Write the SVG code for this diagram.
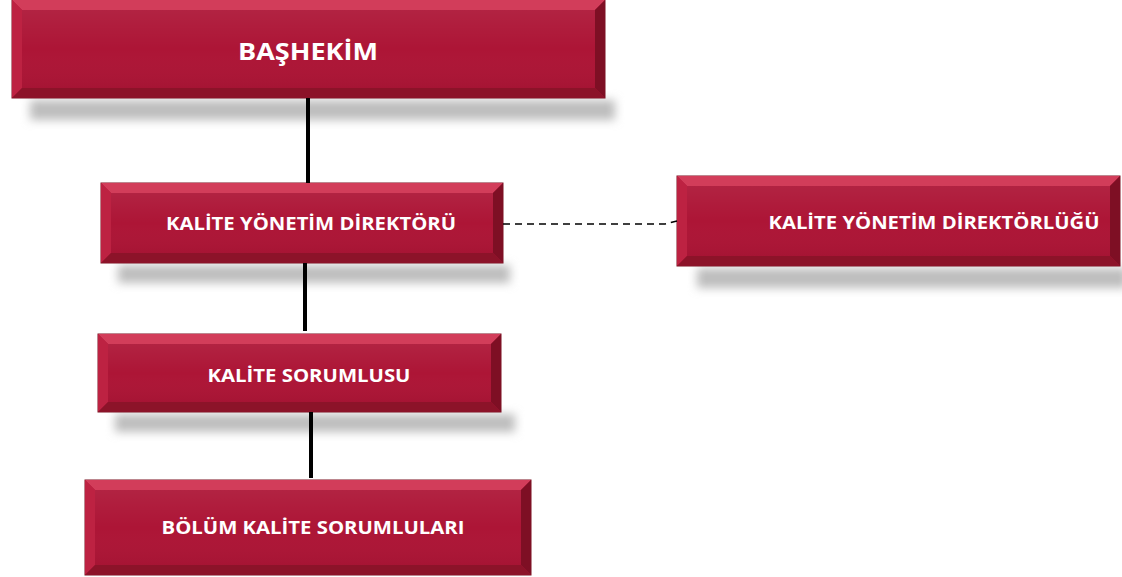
<svg xmlns="http://www.w3.org/2000/svg" width="1122" height="577" viewBox="0 0 1122 577">
<style>
.face{fill:#ad1536;stroke:#7a1020;stroke-width:1}
.bt{fill:#d23d5a}
.bl{fill:#bd2242}
.br{fill:#7e0f24}
.bb{fill:#8c1329}
.sh{fill:#bdbdbd;filter:url(#blur)}
.lbl{font-family:"Open Sans","Liberation Sans",sans-serif;font-weight:bold;fill:#ffffff;text-anchor:middle}
.conn{stroke:#000;stroke-width:4;fill:none}
.dash{stroke:#000;stroke-width:1.5;fill:none;stroke-dasharray:7 5}
</style>
<defs>
<filter id="blur" x="-10%" y="-100%" width="120%" height="300%"><feGaussianBlur stdDeviation="5"/></filter>
<linearGradient id="gl" x1="0" y1="0" x2="0" y2="1">
<stop offset="0" stop-color="#ffffff" stop-opacity="0.06"/>
<stop offset="0.5" stop-color="#ffffff" stop-opacity="0"/>
<stop offset="1" stop-color="#000000" stop-opacity="0.04"/>
</linearGradient>
</defs>
<rect width="1122" height="577" fill="#ffffff"/>
<g id="node-bashekim">
<rect class="sh" x="30" y="100" width="585" height="20"/>
<rect class="face" x="12" y="0" width="593" height="98"/>
<polygon class="bt" points="12,0 605,0 595,10 22,10"/>
<polygon class="bl" points="12,0 22,10 22,88 12,98"/>
<polygon class="br" points="605,0 605,98 595,88 595,10"/>
<polygon class="bb" points="12,98 22,88 595,88 605,98"/>
<rect x="22" y="10" width="573" height="78" fill="url(#gl)"/>
<text class="lbl" x="308" y="60" font-size="24" textLength="140" lengthAdjust="spacingAndGlyphs">BAŞHEKİM</text>
</g>
<g id="node-direktor">
<rect class="sh" x="118" y="265" width="392" height="18"/>
<rect class="face" x="101" y="183" width="402" height="80"/>
<polygon class="bt" points="101,183 503,183 493,193 111,193"/>
<polygon class="bl" points="101,183 111,193 111,253 101,263"/>
<polygon class="br" points="503,183 503,263 493,253 493,193"/>
<polygon class="bb" points="101,263 111,253 493,253 503,263"/>
<rect x="111" y="193" width="382" height="60" fill="url(#gl)"/>
<text class="lbl" x="311" y="230" font-size="17" textLength="290" lengthAdjust="spacingAndGlyphs">KALİTE YÖNETİM DİREKTÖRÜ</text>
</g>
<g id="node-direktorluk">
<rect class="sh" x="697" y="268" width="430" height="20"/>
<rect class="face" x="677" y="176" width="443" height="90"/>
<polygon class="bt" points="677,176 1120,176 1110,186 687,186"/>
<polygon class="bl" points="677,176 687,186 687,256 677,266"/>
<polygon class="br" points="1120,176 1120,266 1110,256 1110,186"/>
<polygon class="bb" points="677,266 687,256 1110,256 1120,266"/>
<rect x="687" y="186" width="423" height="70" fill="url(#gl)"/>
<text class="lbl" x="934" y="229" font-size="17" textLength="331" lengthAdjust="spacingAndGlyphs">KALİTE YÖNETİM DİREKTÖRLÜĞÜ</text>
</g>
<g id="node-sorumlu">
<rect class="sh" x="115" y="414" width="400" height="18"/>
<rect class="face" x="98" y="334" width="403" height="78"/>
<polygon class="bt" points="98,334 501,334 491,344 108,344"/>
<polygon class="bl" points="98,334 108,344 108,402 98,412"/>
<polygon class="br" points="501,334 501,412 491,402 491,344"/>
<polygon class="bb" points="98,412 108,402 491,402 501,412"/>
<rect x="108" y="344" width="383" height="58" fill="url(#gl)"/>
<text class="lbl" x="309" y="382" font-size="17" textLength="203" lengthAdjust="spacingAndGlyphs">KALİTE SORUMLUSU</text>
</g>
<g id="node-bolum">
<rect class="face" x="85" y="480" width="446" height="95"/>
<polygon class="bt" points="85,480 531,480 521,490 95,490"/>
<polygon class="bl" points="85,480 95,490 95,565 85,575"/>
<polygon class="br" points="531,480 531,575 521,565 521,490"/>
<polygon class="bb" points="85,575 95,565 521,565 531,575"/>
<rect x="95" y="490" width="426" height="75" fill="url(#gl)"/>
<text class="lbl" x="313" y="534" font-size="17" textLength="303" lengthAdjust="spacingAndGlyphs">BÖLÜM KALİTE SORUMLULARI</text>
</g>
<g id="connectors">
<line class="conn" x1="308" y1="98" x2="308" y2="183"/>
<line class="conn" x1="305" y1="263" x2="305" y2="331"/>
<line class="conn" x1="311" y1="412" x2="311" y2="478"/>
<path class="dash" d="M503,224 L665,224 L677,221"/>
</g>
</svg>
